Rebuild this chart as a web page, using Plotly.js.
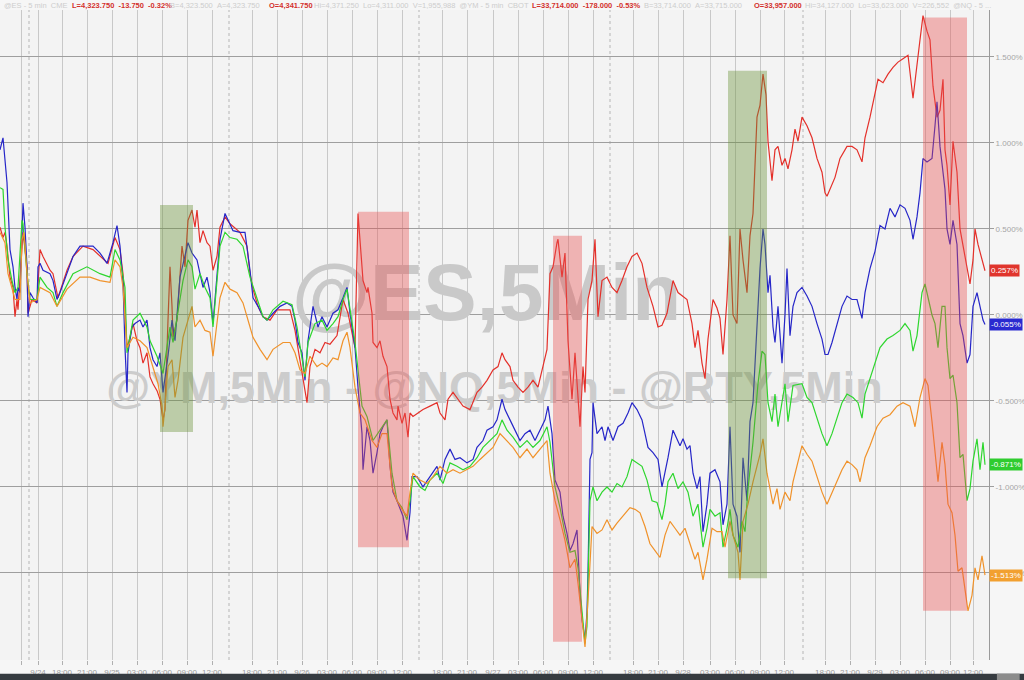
<!DOCTYPE html>
<html><head><meta charset="utf-8">
<script src="https://cdn.plot.ly/plotly-3.0.1.min.js"></script>
<style>html,body{margin:0;padding:0;background:#f6f6f6;}#chart{width:1024px;height:680px;}</style>
</head><body><div id="chart"></div>
<script>
// time axis: trading hours elapsed from the left edge of the chart (5-min sessions, breaks removed)
const redT = [0,0.36,0.6,0.84,1.2,1.56,1.8,2.04,2.16,2.64,2.76,3.24,3.36,3.84,4.44,4.8,5.16,6,6.36,6.96,8.04,8.76,9.96,11.16,12,12.96,13.8,14.4,14.76,15.24,15.6,15.96,16.44,16.8,17.16,17.64,18,18.36,18.84,19.2,19.56,19.8,20.16,20.4,20.64,20.76,21.24,21.84,22.2,22.56,23.04,23.4,23.64,24,24.36,24.84,25.2,25.56,26.04,26.4,27,27.6,28.8,29.64,30,30.36,30.96,31.56,32.4,33.24,33.96,34.8,35.4,35.76,36.36,36.84,37.2,37.8,38.4,39,39.6,40.44,41.16,41.76,42.6,42.96,43.44,43.56,44.04,44.16,44.64,44.76,45.24,45.6,45.96,46.44,46.8,47.16,47.64,47.76,48.24,48.6,48.96,49.2,49.56,50.16,50.76,51.6,52.44,52.8,53.4,53.76,54.36,54.96,55.56,56.4,57.24,57.84,58.44,59.16,59.76,60.24,60.6,61.2,61.56,62.16,62.76,63.36,63.96,64.56,65.16,65.64,66,66.36,66.84,66.96,67.44,67.8,68.16,68.64,69,69.36,69.6,69.96,70.2,70.56,71.04,71.4,71.76,72.24,72.84,73.44,74.04,74.64,75.24,75.84,76.44,77.04,77.64,78.36,78.96,79.44,80.04,80.76,81.36,82.44,83.04,83.4,83.76,84.24,84.6,84.96,85.56,86.04,86.4,86.76,87.24,87.6,87.96,88.44,88.8,89.16,89.64,90,90.36,90.84,91.2,91.56,91.92,92.16,92.64,93,93.36,93.84,94.2,94.56,95.04,95.4,95.76,96.24,96.84,97.44,98.04,98.64,99,99.24,99.6,100.2,100.8,101.64,102.24,102.84,103.44,103.8,104.4,104.76,105.36,105.96,106.56,107.16,107.76,108.36,108.96,109.56,110.04,110.4,110.76,111.24,111.6,111.96,112.44,112.8,113.16,113.4,113.64,114,114.36,114.84,115.2,115.56,116.04,116.4,116.76,117,117.36,117.84,118.2];
const redV = [0.51,0.45,0.48,0.40,0.22,0.16,-0.01,0.09,0.03,0.42,0.48,0.28,0.01,0.09,0.07,0.38,0.34,0.26,0.24,0.10,0.26,0.34,0.40,0.38,0.34,0.30,0.45,0.38,0.24,-0.19,-0.13,-0.05,-0.15,-0.19,-0.28,-0.22,-0.36,-0.40,-0.44,-0.49,-0.61,-0.55,-0.03,0.28,0.05,-0.13,-0.03,0.40,0.28,0.55,0.61,0.51,0.61,0.42,0.49,0.42,0.40,0.26,0.34,0.51,0.57,0.53,0.48,0.40,0.24,0.15,0.05,-0.01,-0.03,0.03,0.03,0.03,-0.09,-0.20,-0.38,-0.51,-0.30,-0.20,-0.22,-0.16,-0.17,-0.12,0.09,0.01,-0.19,0.59,0.28,0.20,0.13,0.16,0.01,-0.16,-0.19,-0.15,-0.24,-0.30,-0.49,-0.57,-0.61,-0.53,-0.63,-0.57,-0.71,-0.57,-0.59,-0.57,-0.55,-0.53,-0.51,-0.57,-0.61,-0.49,-0.45,-0.49,-0.53,-0.55,-0.45,-0.42,-0.38,-0.32,-0.30,-0.22,-0.26,-0.30,-0.38,-0.42,-0.45,-0.42,-0.38,-0.42,-0.30,-0.20,0.24,0.28,0.42,0.44,0.22,0.36,-0.15,-0.49,-0.22,-0.45,-0.65,-0.30,-0.45,0.09,0.20,0.44,-0.01,0.20,0.22,0.16,0.13,0.20,0.28,0.34,0.36,0.30,0.16,0.05,-0.07,-0.06,0.01,0.20,0.13,0.09,-0.05,-0.19,-0.09,-0.28,-0.37,-0.14,0.09,0.04,-0.02,-0.23,0.09,0.46,0.00,-0.05,0.50,0.32,0.13,0.46,0.59,1.15,1.22,1.40,1.28,1.01,0.78,0.96,0.98,0.87,0.91,0.85,0.96,1.08,1.01,1.15,1.10,1.03,0.91,0.83,0.71,0.69,0.73,0.80,0.91,0.98,0.98,0.96,0.89,1.03,1.15,1.24,1.37,1.35,1.40,1.44,1.47,1.49,1.51,1.26,1.47,1.60,1.74,1.65,1.60,1.33,1.15,1.19,1.37,0.96,0.87,0.64,1.01,0.83,0.50,0.41,0.27,0.18,0.32,0.50,0.41,0.32,0.257];

const blueT = [0,0.36,0.84,1.2,1.56,1.8,2.04,2.16,2.4,2.64,2.76,3,3.24,3.36,3.6,3.96,4.44,4.56,4.8,5.16,6,6.36,6.84,7.2,8.04,8.76,9.6,10.44,11.16,12,12.84,13.56,14.04,14.4,14.76,15,15.24,15.36,15.84,16.2,16.8,17.16,17.64,18,18.36,18.84,19.2,19.56,20.04,20.16,20.64,21,21.6,22.2,22.56,23.04,23.64,24,24.36,24.84,25.2,25.56,26.04,26.4,27,27.6,27.96,28.8,29.4,30,30.36,30.96,31.56,32.04,32.76,33.6,34.44,35.04,35.4,35.76,36.24,36.6,36.96,37.56,38.16,38.64,39.24,39.96,40.56,41.16,41.64,42,42.6,42.96,43.44,43.56,44.04,44.4,44.76,45.24,45.6,45.96,46.44,46.8,47.16,47.64,48,48.36,48.84,49.2,49.44,50.04,50.76,51.6,52.44,52.8,53.4,54,54.6,55.2,56.04,56.76,57.24,57.96,58.44,59.16,59.64,60.24,60.6,61.2,61.8,62.4,63,63.6,64.2,64.8,65.4,65.76,66.24,66.6,67.2,67.56,68.04,68.4,68.76,69.24,69.6,69.84,70.2,70.44,70.56,70.8,71.04,71.16,71.64,72.24,72.6,72.96,73.56,74.16,74.76,75.36,75.84,76.44,77.04,77.4,77.76,78.36,78.96,79.44,79.8,80.16,80.76,81.24,81.6,81.96,82.44,82.8,83.16,83.64,84,84.36,84.84,85.2,85.8,86.4,86.76,87.24,87.6,87.96,88.44,88.8,89.16,89.64,90,90.36,90.84,91.2,91.56,91.8,92.16,92.4,92.76,93,93.36,93.84,94.2,94.44,94.8,95.16,95.64,96.24,96.84,97.44,98.04,98.64,99,99.36,99.84,100.44,101.04,101.64,102.24,102.84,103.44,103.8,104.4,105,105.6,106.2,106.8,107.4,108,108.6,109.2,109.56,110.04,110.4,110.76,111.24,111.84,112.2,112.44,112.8,113.16,113.4,113.64,114,114.36,114.84,115.2,115.56,116.04,116.4,116.76,117.24,117.6,117.96,118.2];
const blueV = [0.96,1.03,0.77,0.38,0.28,0.16,0.09,0.16,0.13,0.48,0.65,0.51,0.28,-0.01,0.13,0.10,0.07,0.28,0.30,0.26,0.24,0.20,0.09,0.13,0.24,0.34,0.40,0.40,0.40,0.36,0.30,0.42,0.52,0.40,0.19,-0.19,-0.45,-0.22,-0.07,-0.05,-0.03,-0.07,-0.03,-0.19,-0.26,-0.30,-0.22,-0.45,-0.30,-0.24,-0.03,-0.15,0.22,0.34,0.42,0.36,0.32,0.24,0.16,0.22,0.13,-0.05,0.24,0.44,0.59,0.53,0.49,0.48,0.48,0.26,0.10,0.05,-0.01,-0.03,0.01,0.05,0.07,0.05,-0.03,-0.16,-0.22,-0.38,-0.15,0.05,-0.07,-0.01,-0.07,0.01,0.03,0.10,0.16,0.01,-0.19,-0.42,-0.69,-0.90,-0.65,-0.73,-0.92,-0.80,-0.69,-0.65,-0.61,-0.88,-1.03,-1.08,-1.12,-1.17,-1.31,-1.15,-0.94,-0.94,-1.00,-0.94,-0.88,-0.96,-0.84,-0.78,-0.84,-0.83,-0.86,-0.84,-0.77,-0.73,-0.67,-0.65,-0.61,-0.49,-0.55,-0.61,-0.67,-0.73,-0.69,-0.67,-0.73,-0.67,-0.61,-0.53,-0.69,-0.96,-1.03,-1.17,-1.27,-1.37,-1.33,-1.25,-1.62,-1.77,-1.89,-1.73,-1.50,-0.84,-0.80,-0.51,-0.69,-0.65,-0.73,-0.65,-0.73,-0.65,-0.63,-0.57,-0.51,-0.55,-0.61,-0.69,-0.77,-0.80,-0.84,-1.00,-0.92,-0.83,-0.67,-0.72,-0.76,-0.72,-0.78,-0.76,-0.92,-1.01,-0.94,-1.26,-1.10,-0.92,-0.90,-0.97,-1.22,-1.10,-0.65,-1.10,-1.17,-1.38,-0.83,-1.08,-0.62,-0.51,-0.05,0.27,0.50,0.41,0.13,0.23,-0.07,-0.16,0.05,-0.28,0.00,0.27,-0.12,0.05,0.13,0.16,0.11,0.05,-0.05,-0.14,-0.23,-0.23,-0.16,-0.05,0.05,0.11,0.09,0.09,-0.02,0.13,0.27,0.37,0.52,0.50,0.62,0.57,0.64,0.62,0.55,0.44,0.57,0.71,0.91,0.89,0.91,1.10,1.24,0.98,0.83,0.73,0.50,0.41,0.55,0.41,-0.05,-0.12,-0.28,-0.23,0.05,0.13,0.05,-0.03,-0.055];

const greenT = [0,0.36,0.6,0.96,1.44,1.8,2.16,2.64,2.76,3.24,3.6,4.44,4.8,5.64,6.36,6.84,7.56,8.76,10.44,12,13.2,13.8,14.4,15,15.24,15.96,16.8,17.64,18,18.84,19.56,20.04,20.4,20.76,21.36,21.96,22.56,23.04,23.4,24,24.6,25.2,25.56,26.04,26.4,27,27.6,28.44,29.16,30,30.84,31.56,32.04,32.76,33.96,35.04,35.64,36.24,36.6,36.96,37.8,38.64,39.24,39.96,40.56,41.16,41.64,42.6,43.44,44.04,44.76,45.6,46.44,47.04,47.64,48.24,48.84,49.2,49.56,50.4,51,51.6,52.44,53.16,54,54.84,55.56,56.4,57.24,57.96,58.8,59.64,60.24,60.84,61.56,62.4,63.24,63.96,64.8,65.64,66,66.6,67.2,67.8,68.4,69,69.36,69.84,70.2,70.44,70.8,71.16,71.64,72.24,72.84,73.44,74.04,74.64,75.24,75.84,76.44,77.04,77.64,78.24,78.84,79.44,79.8,80.16,80.76,81.36,81.96,82.56,83.16,83.76,84.36,84.84,85.2,85.8,86.4,86.76,87.24,87.6,87.96,88.56,89.04,89.4,89.76,90.36,90.96,91.44,91.8,92.16,92.64,93,93.36,93.84,94.2,94.56,95.16,96.24,96.84,97.44,98.04,98.64,99.24,99.84,100.44,101.04,101.64,102.36,102.96,103.44,103.8,104.4,105,105.6,106.44,107.16,108,108.6,109.2,109.56,110.04,110.64,111,111.36,111.84,112.2,112.56,113.04,113.4,113.64,114,114.36,114.84,115.2,115.56,116.04,116.4,116.76,117.24,117.6,117.96,118.2];
const greenV = [0.74,0.73,0.51,0.32,0.20,0.13,0.16,0.55,0.53,0.24,0.09,0.09,0.22,0.16,0.13,0.05,0.13,0.24,0.28,0.24,0.22,0.38,0.32,0.16,-0.22,-0.03,0.01,-0.07,-0.15,-0.24,-0.34,-0.19,-0.07,-0.16,0.01,0.20,0.32,0.28,0.15,0.24,0.16,0.10,-0.07,0.20,0.40,0.48,0.45,0.44,0.40,0.22,0.09,-0.01,-0.03,0.03,0.08,0.06,-0.07,-0.24,-0.36,-0.16,-0.05,-0.03,-0.09,-0.05,-0.01,0.09,0.15,-0.16,-0.53,-0.59,-0.73,-0.67,-0.61,-0.92,-1.08,-1.12,-1.19,-1.08,-0.94,-1.00,-1.02,-0.96,-0.92,-0.98,-0.86,-0.88,-0.90,-0.88,-0.83,-0.77,-0.73,-0.69,-0.61,-0.67,-0.71,-0.77,-0.73,-0.77,-0.73,-0.65,-0.74,-1.00,-1.12,-1.27,-1.38,-1.37,-1.47,-1.72,-1.91,-1.81,-1.08,-1.00,-1.08,-1.03,-1.00,-1.03,-0.98,-1.00,-0.94,-0.84,-0.86,-0.88,-0.96,-1.08,-1.09,-1.19,-1.10,-0.97,-0.92,-1.01,-0.97,-1.03,-1.17,-1.10,-1.35,-1.24,-1.13,-1.17,-1.15,-1.35,-1.24,-1.13,-1.28,-1.35,-1.20,-1.26,-1.01,-0.74,-0.40,-0.21,-0.23,-0.51,-0.62,-0.46,-0.65,-0.51,-0.40,-0.62,-0.41,-0.40,-0.48,-0.51,-0.60,-0.69,-0.76,-0.69,-0.60,-0.51,-0.46,-0.48,-0.51,-0.60,-0.46,-0.37,-0.28,-0.19,-0.14,-0.12,-0.09,-0.05,-0.09,-0.21,-0.12,0.13,0.18,0.11,0.00,-0.05,-0.19,0.05,0.05,-0.19,-0.37,-0.35,-0.51,-0.83,-0.81,-1.08,-1.01,-0.85,-0.72,-0.90,-0.74,-0.871];

const orangeT = [0,0.6,0.96,1.44,1.8,2.4,2.64,2.88,3.24,3.6,4.44,4.8,6,6.84,8.04,9.6,10.8,12,13.2,13.8,14.4,14.76,15.24,15.96,16.8,17.64,18.36,18.96,19.44,19.56,19.8,20.16,20.64,21,21.36,21.96,22.56,23.04,23.4,24,24.6,25.2,25.56,26.04,26.4,27,27.6,28.44,29.16,30,30.36,31.2,32.04,32.76,33.96,34.8,35.4,36,36.6,37.2,38.04,38.64,39.24,39.96,40.56,41.16,41.64,42,42.6,43.2,43.8,44.64,45.24,45.84,46.44,47.04,47.64,48.24,48.84,49.2,49.56,50.4,51.24,51.96,52.8,53.64,54.36,55.2,56.04,56.76,57.6,58.44,59.16,60,60.84,61.56,62.4,63.24,63.96,64.8,65.64,66,66.6,67.2,67.8,68.4,69,69.36,69.84,70.2,70.56,71.04,71.64,72.24,72.84,73.44,74.04,74.76,75.6,76.2,76.8,77.4,78,78.6,79.2,79.8,80.4,81,81.6,82.2,82.8,83.4,83.76,84.36,84.84,85.44,86.04,86.64,87,87.6,87.96,88.56,88.8,89.16,89.76,90.36,91.2,91.56,92.04,92.4,92.76,93.24,93.6,94.2,94.8,95.16,95.76,96.24,96.84,97.44,98.04,98.64,99.24,99.84,100.44,101.04,101.64,102.24,102.84,103.2,103.8,104.4,105.24,105.96,106.8,107.64,108.36,109.2,109.8,110.4,111,111.36,111.84,112.2,112.56,113.04,113.4,113.76,114.24,114.6,114.96,115.44,115.8,116.16,116.64,117,117.36,117.84,118.2];
const orangeV = [0.48,0.42,0.24,0.16,0.09,0.09,0.44,0.48,0.24,0.07,0.09,0.16,0.13,0.05,0.15,0.22,0.22,0.20,0.19,0.32,0.28,0.16,-0.19,-0.13,-0.15,-0.19,-0.30,-0.40,-0.53,-0.65,-0.53,-0.30,-0.26,-0.48,-0.38,-0.13,-0.03,0.05,-0.07,-0.03,-0.09,-0.10,-0.24,-0.03,0.10,0.19,0.15,0.13,0.07,-0.07,-0.13,-0.20,-0.26,-0.20,-0.16,-0.16,-0.22,-0.32,-0.34,-0.24,-0.30,-0.28,-0.30,-0.25,-0.26,-0.15,-0.10,-0.19,-0.42,-0.57,-0.61,-0.73,-0.77,-0.69,-0.69,-1.00,-1.08,-1.13,-1.17,-1.03,-0.92,-0.96,-0.98,-0.94,-0.88,-0.92,-0.90,-0.92,-0.90,-0.88,-0.84,-0.80,-0.77,-0.69,-0.73,-0.77,-0.83,-0.78,-0.83,-0.78,-0.73,-0.92,-1.08,-1.19,-1.31,-1.47,-1.42,-1.56,-1.76,-1.93,-1.66,-1.23,-1.27,-1.25,-1.19,-1.25,-1.21,-1.17,-1.12,-1.13,-1.15,-1.23,-1.33,-1.37,-1.41,-1.28,-1.20,-1.24,-1.28,-1.24,-1.33,-1.42,-1.38,-1.54,-1.42,-1.24,-1.26,-1.26,-1.35,-1.20,-1.28,-1.38,-1.54,-1.20,-1.10,-0.97,-0.81,-0.72,-0.92,-1.01,-1.10,-1.01,-1.13,-1.03,-1.08,-0.97,-0.85,-0.76,-0.81,-0.85,-0.94,-1.03,-1.10,-1.03,-0.97,-0.90,-0.85,-0.87,-0.90,-0.97,-0.83,-0.76,-0.65,-0.60,-0.58,-0.53,-0.51,-0.53,-0.65,-0.48,-0.37,-0.41,-0.62,-0.81,-0.97,-0.74,-0.87,-1.10,-1.15,-1.28,-1.49,-1.47,-1.60,-1.72,-1.63,-1.47,-1.54,-1.40,-1.513];

const seriesNames = ['@NQ','@ES','@YM','@RTY'];
const seriesColors = ['#e4302a','#2626c8','#2ed62e','#f0922a'];
const labelColors = ['#e0352d','#2a2ad0','#2fcc2f','#f2a030'];

// x-axis ticks (trading hours) and their labels
const tickHours = [2.52,4.56,7.44,10.44,13.44,16.44,19.44,22.44,25.44,30.24,33.24,36.24,39.24,42.24,45.24,48.24,53.04,56.04,59.16,62.16,65.16,68.16,71.16,75.96,78.96,81.96,85.2,88.2,91.2,94.08,99,102,105,108,111,114,116.76];
const tickLabels = ['','9/24','18:00','21:00','9/25','03:00','06:00','09:00','12:00','18:00','21:00','9/26','03:00','06:00','09:00','12:00','18:00','21:00','9/27','03:00','06:00','09:00','12:00','18:00','21:00','9/28','03:00','06:00','09:00','12:00','18:00','21:00','9/29','03:00','06:00','09:00','12:00'];
const sessionBreaks = [3.48,27.48,50.28,73.2,96.36];
const yTicks = [-1.5,-1.0,-0.5,0,0.5,1.0,1.5];

// highlighted windows: start/end hour, low/high %, kind
const boxStart = [19.2,42.96,66.36,87.36,110.76];
const boxEnd   = [23.16,49.08,69.84,92.04,116.04];
const boxLow   = [-0.68,-1.35,-1.90,-1.53,-1.72];
const boxHigh  = [0.64,0.60,0.46,1.42,1.73];
const boxKind  = ['up','down','down','up','down'];

// quote header pieces: text, highlighted?, start position as fraction of plot width
const headerText = ['@ES - 5 min  CME','L=4,323.750  -13.750  -0.32%','B=4,323.500  A=4,323.750','O=4,341.750','Hi=4,371.250  Lo=4,311.000  V=1,955,988  @YM - 5 min  CBOT','L=33,714.000  -178.000  -0.53%','B=33,714.000  A=33,715.000','O=33,957.000','Hi=34,127.000  Lo=33,623.000  V=226,552  @NQ - 5 ...'];
const headerHot = [false,true,false,true,false,true,false,true,false];
const headerPos = [0.002,0.0708,0.170,0.270,0.3155,0.536,0.649,0.760,0.812];

const xRange = [0, 118.68];
const yRange = [-2.006, 1.773];

const seriesT = [redT, blueT, greenT, orangeT];
const seriesV = [redV, blueV, greenV, orangeV];

const xAt = f => xRange[0] + f*(xRange[1]-xRange[0]);
const yAt = f => yRange[0] + f*(yRange[1]-yRange[0]);

const traces = [];
traces.push({x:[xAt(0.492)], y:[yAt(0.554)], mode:'text', text:['<b>@ES,5Min</b>'],
  textfont:{size:80, color:'#c9c9c9', family:'Liberation Sans, Arial, sans-serif'}, hoverinfo:'skip', showlegend:false, cliponaxis:false});
traces.push({x:[xAt(0.500)], y:[yAt(0.413)], mode:'text', text:['<b>@YM,5Min - @NQ,5Min - @RTY,5Min</b>'],
  textfont:{size:45, color:'#cccccc', family:'Liberation Sans, Arial, sans-serif'}, hoverinfo:'skip', showlegend:false, cliponaxis:false});
for (let i = 0; i < 4; i++) {
  traces.push({x: seriesT[i], y: seriesV[i], name: seriesNames[i], type:'scatter', mode:'lines',
    line:{color: seriesColors[i], width:1.2}, hoverinfo:'skip', showlegend:false});
}

const shapes = [];
for (let i = 0; i < boxStart.length; i++) {
  shapes.push({type:'rect', xref:'x', yref:'y', x0: boxStart[i], x1: boxEnd[i], y0: boxLow[i], y1: boxHigh[i],
    fillcolor: boxKind[i] === 'up' ? 'rgba(105,145,55,0.40)' : 'rgba(235,75,75,0.38)', line:{width:0}, layer:'above'});
}
sessionBreaks.forEach(b => shapes.push({type:'line', xref:'x', yref:'paper', x0:b, x1:b, y0:0, y1:1,
  line:{color:'#b5b5b5', width:1, dash:'3px,3px'}, layer:'below'}));
// bottom scroll bar strip
shapes.push({type:'rect', xref:'paper', yref:'paper', x0:0, x1:1.04, y0:-0.031, y1:-0.021, fillcolor:'#363b40', line:{width:0}});
shapes.push({type:'rect', xref:'paper', yref:'paper', x0:1.008, x1:1.031, y0:-0.031, y1:-0.021, fillcolor:'#8c8c8c', line:{width:0}});

const annotations = [];
for (let i = 0; i < 4; i++) {
  const last = seriesV[i][seriesV[i].length - 1];
  annotations.push({xref:'paper', yref:'y', x:1, y:last, xanchor:'left', yanchor:'middle', xshift:0,
    text: last.toFixed(3) + '%', showarrow:false, bgcolor: labelColors[i], borderpad:1,
    font:{size:8, color:'#ffffff', family:'Liberation Sans, Arial, sans-serif'}});
}
for (let i = 0; i < headerText.length; i++) {
  const t = headerText[i].replace(/  /g,' &nbsp;');
  annotations.push({xref:'paper', yref:'paper', x: headerPos[i], y:1.0065, xanchor:'left', yanchor:'middle',
    text: headerHot[i] ? '<b>' + t + '</b>' : t,
    showarrow:false, font:{size:7.5, color: headerHot[i] ? '#d3312c' : '#cdcdcd', family:'Liberation Sans, Arial, sans-serif'}});
}

const layout = {
  width:1024, height:680,
  margin:{l:0, r:35, t:10, b:20, pad:0},
  paper_bgcolor:'#f6f6f6', plot_bgcolor:'#f3f3f3',
  showlegend:false,
  xaxis:{range:xRange, tickmode:'array', tickvals:tickHours, ticktext:tickLabels, showgrid:true, gridcolor:'#c8c8c8', gridwidth:1,
    ticks:'outside', ticklen:4, tickcolor:'#b0b0b0', tickfont:{size:8, color:'#9c9c9c', family:'Liberation Sans, Arial, sans-serif'},
    zeroline:false, showline:false, fixedrange:true},
  yaxis:{range:yRange, side:'right', tickmode:'array', tickvals:yTicks, ticktext:yTicks.map(v => v.toFixed(3) + '%'),
    showgrid:true, gridcolor:'#9e9e9e', gridwidth:1, ticks:'outside', ticklen:4, tickcolor:'#9e9e9e',
    tickfont:{size:8, color:'#a6a6a6', family:'Liberation Sans, Arial, sans-serif'},
    showline:true, linecolor:'#9a9a9a', linewidth:1, zeroline:false, fixedrange:true},
  shapes: shapes,
  annotations: annotations
};

Plotly.newPlot('chart', traces, layout, {staticPlot:true, displayModeBar:false});
</script>
</body></html>
